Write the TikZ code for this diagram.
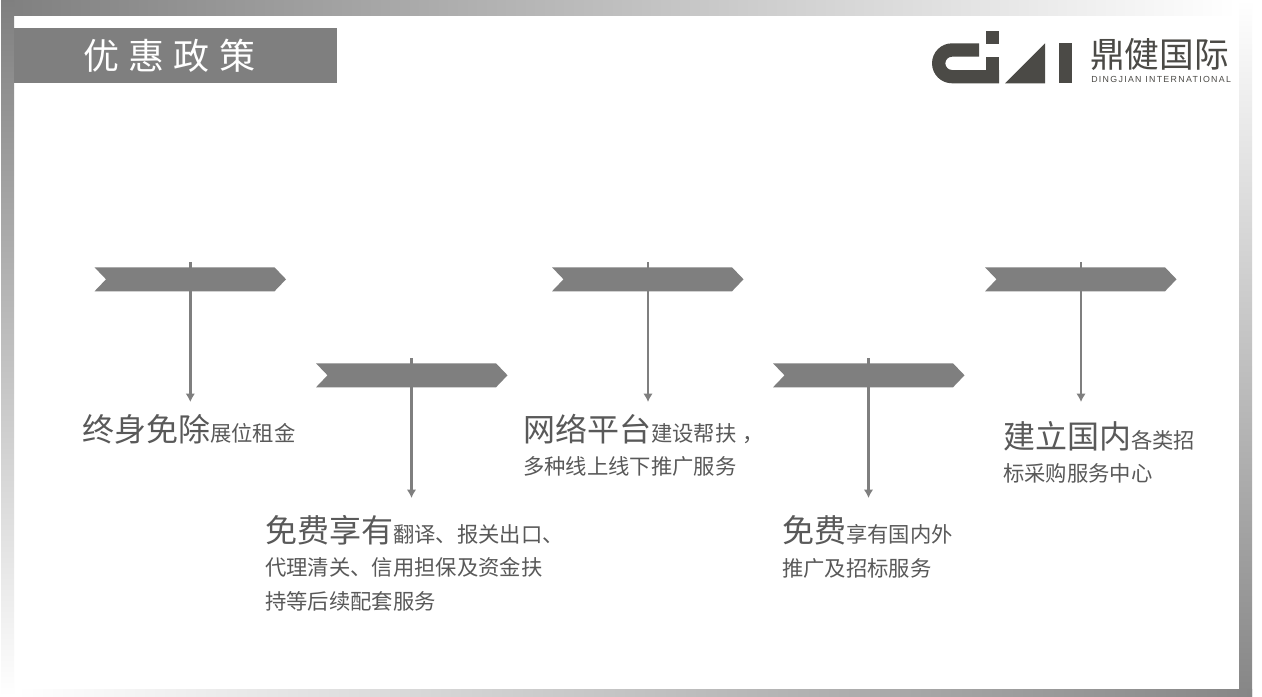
\documentclass[tikz,border=0pt]{standalone}
\usepackage{fontspec}
\setmainfont{Noto Sans CJK SC}
\newfontfamily\latinfont{Liberation Sans}
\usetikzlibrary{arrows.meta}
\definecolor{bandgrey}{HTML}{7F7F7F}
\definecolor{framegrey}{HTML}{868686}
\definecolor{txtgrey}{HTML}{595959}
\definecolor{logogrey}{HTML}{4B4A46}
\newcommand{\bigtxt}[1]{{\fontsize{24pt}{24pt}\selectfont #1}}
\tikzset{
  chevronshape/.style={fill=bandgrey,draw=none},
  droparrow/.style={draw=bandgrey,line width=2.2pt,-{Latex[length=6.2pt,width=7pt]}},
  blocktext/.style={anchor=base west,inner sep=0pt,outer sep=0pt,text=txtgrey,align=left,
    font=\fontsize{16pt}{25.5pt}\selectfont},
  logofill/.style={fill=logogrey,draw=none}
}
\newcommand{\chevron}[4]{% name, x, y, line x
  \path[chevronshape] (#2,#3) -- (#2+180,#3) -- (#2+191.5,#3+12) -- (#2+180,#3+24) -- (#2,#3+24) -- (#2+11.5,#3+12) -- cycle;
}
\begin{document}
\begin{tikzpicture}[x=0.75pt,y=-0.75pt]
\useasboundingbox (0,0) rectangle (1262,696);
\fill[white] (0,0) rectangle (1262,696);
% frame
\shade[left color=framegrey!95!black,right color=white] (1,0) rectangle (1236,15);
\shade[top color=framegrey!95!black,bottom color=white] (1,0) rectangle (14,696);
\shade[top color=white,bottom color=framegrey] (1239,0) rectangle (1252,696);
\shade[left color=white,right color=framegrey] (17,689) rectangle (1252,696);
% title band
\fill[bandgrey] (14,28) rectangle (337,83);
\node[anchor=base west,inner sep=0pt,text=white,font=\fontsize{27pt}{27pt}\selectfont] (title) at (83,69.5)
  {优\hspace{7pt}惠\hspace{7pt}政\hspace{7pt}策};
% logo
\path[logofill] (979,43.3) -- (952,43.3) arc[start angle=270,end angle=90,radius=20] -- (999,83.3) -- (999,70) -- (952,70)
  arc[start angle=90,end angle=270,radius=6.65] -- (979,56.7) -- cycle;
\path[logofill] (986,31) rectangle (999,44);
\path[logofill] (986,56.7) rectangle (999,70);
\path[logofill] (1045,43.3) -- (1045,83.3) -- (1005,83.3) -- cycle;
\path[logofill] (1059,43.3) rectangle (1072,83.3);
\node[anchor=base west,inner sep=0pt,text=logogrey,font=\fontsize{26pt}{26pt}\selectfont] (logocn) at (1090,67.5)
  {鼎健国际};
\node[anchor=base west,inner sep=0pt,text=logogrey] (logoen) at (1091,82)
  {\latinfont\addfontfeature{LetterSpace=15}\fontsize{6.6pt}{6.6pt}\selectfont DINGJIAN INTERNATIONAL};
% chevrons
\chevron{c1}{94.5}{267.3}{190.3}
\chevron{c2}{316}{363.3}{411.5}
\chevron{c3}{552}{267.3}{648}
\chevron{c4}{773}{363.3}{868.5}
\chevron{c5}{985}{267.3}{1081}
% arrows
\coordinate (a1s) at (190.3,262); \coordinate (a1e) at (190.3,402);
\coordinate (a2s) at (411.5,358); \coordinate (a2e) at (411.5,498);
\coordinate (a3s) at (648,262);   \coordinate (a3e) at (648,402);
\coordinate (a4s) at (868.5,358); \coordinate (a4e) at (868.5,498);
\coordinate (a5s) at (1081,262);  \coordinate (a5e) at (1081,402);
\draw[droparrow] (a1s) -- (a1e);
\draw[droparrow] (a2s) -- (a2e);
\draw[droparrow] (a3s) -- (a3e);
\draw[droparrow] (a4s) -- (a4e);
\draw[droparrow] (a5s) -- (a5e);
% texts
\node[blocktext] (t1) at (82,441) {\bigtxt{终身免除}展位租金};
\node[blocktext] (t2a) at (265,542) {\bigtxt{免费享有}翻译、报关出口、};
\node[blocktext] (t2b) at (265,575.5) {代理清关、信用担保及资金扶};
\node[blocktext] (t2c) at (265,609) {持等后续配套服务};
\node[blocktext] (t3a) at (523,441) {\bigtxt{网络平台}建设帮扶\hspace*{5pt}，};
\node[blocktext] (t3b) at (523,474) {多种线上线下推广服务};
\node[blocktext] (t4a) at (782,542) {\bigtxt{免费}享有国内外};
\node[blocktext] (t4b) at (782,576) {推广及招标服务};
\node[blocktext] (t5a) at (1003,448) {\bigtxt{建立国内}各类招};
\node[blocktext] (t5b) at (1003,481.5) {标采购服务中心};
\end{tikzpicture}
\end{document}
